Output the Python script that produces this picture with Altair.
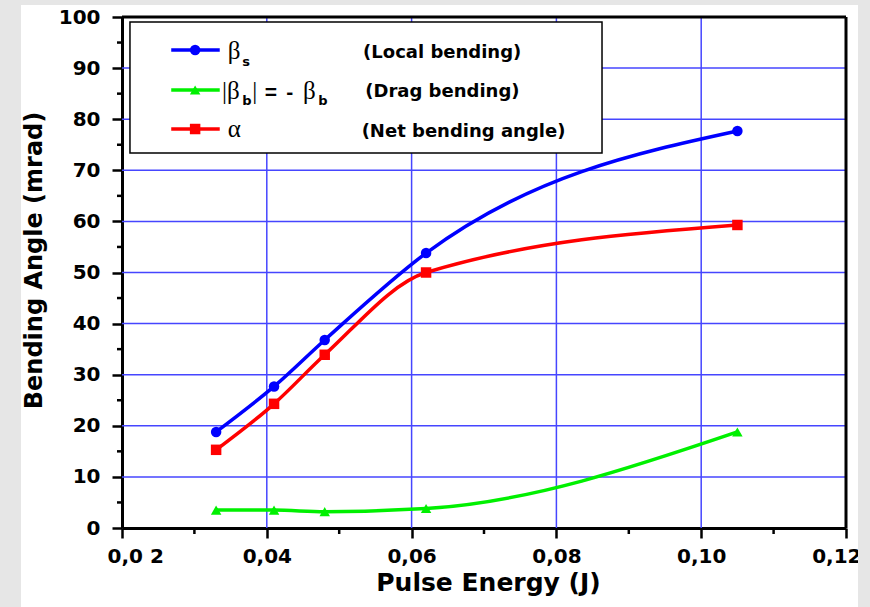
import altair as alt
import pandas as pd

# ---- data ----
energy = [0.033, 0.041, 0.048, 0.062, 0.105]
beta_s = [18.8, 27.7, 36.8, 53.8, 77.7]
beta_b = [3.5, 3.5, 3.2, 3.8, 18.8]
alpha = [15.3, 24.3, 33.9, 50.0, 59.3]
series_names = ["beta_s", "beta_b", "alpha"]
series_colors = ["#0000ff", "#00f000", "#ff0000"]
series_shapes = ["circle", "triangle-up", "square"]

x_ticks = [0.02, 0.04, 0.06, 0.08, 0.10, 0.12]
y_ticks = [0, 10, 20, 30, 40, 50, 60, 70, 80, 90, 100]
x_grid = [0.04, 0.06, 0.08, 0.10]
y_grid = [10, 20, 30, 40, 50, 60, 70, 80, 90]
x_minor = [0.03, 0.05, 0.07, 0.09, 0.11]
y_minor = [5, 15, 25, 35, 45, 55, 65, 75, 85, 95]

descriptions = ["(Local bending)", "(Drag bending)", "(Net bending angle)"]

rows = []
for name, vals in zip(series_names, [beta_s, beta_b, alpha]):
    for e, v in zip(energy, vals):
        rows.append({"series": name, "x": e, "y": v})
df = pd.DataFrame(rows)

# ---- legend layout (in data coordinates) ----
leg_box = pd.DataFrame({"x": [0.0211], "x2": [0.0863], "y": [99.0], "y2": [73.4]})
leg_lines = pd.DataFrame({
    "series": series_names,
    "x": [0.0268] * 3, "x2": [0.0335] * 3,
    "xm": [0.0301] * 3,
    "y": [93.54, 85.71, 78.08],
})
greek = pd.DataFrame({
    "x": [0.0346, 0.0338, 0.0380, 0.0450, 0.0346],
    "y": [91.78, 84.05, 84.05, 84.05, 76.52],
    "t": ["β", "|β", "|", "β", "α"],
})
subs = pd.DataFrame({
    "x": [0.0366, 0.0366, 0.0471],
    "y": [90.41, 82.78, 82.78],
    "t": ["s", "b", "b"],
})
ops = pd.DataFrame({
    "x": [0.0397, 0.0427],
    "y": [84.05, 84.05],
    "t": ["=", "-"],
})
desc = pd.DataFrame({
    "x": [0.0533, 0.0536, 0.0531],
    "y": [91.98, 84.25, 76.52],
    "t": descriptions,
})

xscale = alt.Scale(domain=[0.02, 0.12], nice=False, zero=False)
yscale = alt.Scale(domain=[0, 100], nice=False, zero=False)

x_axis = alt.Axis(
    values=x_ticks,
    labelExpr="datum.value == 0.02 ? '0,0 2' : replace(format(datum.value, '.2f'), '.', ',')",
    labelPadding=8, labelFlush=True, labelFlushOffset=15, labelOverlap=False,
    titleX=366, titleY=62, titleBaseline="alphabetic", titleAlign="center",
)
y_axis = alt.Axis(
    values=y_ticks, labelPadding=12, labelFlush=False,
    titleX=-81, titleY=243, titleBaseline="alphabetic", titleAlign="center", titleAngle=270,
    titleFontSize=24,
)


def X(f):
    return alt.X(f, type="quantitative", scale=xscale, axis=x_axis, title="Pulse Energy (J)")


def Y(f):
    return alt.Y(f, type="quantitative", scale=yscale, axis=y_axis, title="Bending Angle (mrad)")


color = alt.Color("series:N", scale=alt.Scale(domain=series_names, range=series_colors), legend=None)
shape = alt.Shape("series:N", scale=alt.Scale(domain=series_names, range=series_shapes), legend=None)

one = pd.DataFrame({"a": [0]})
GRAY = "#e6e6e6"

gray_left = alt.Chart(one).mark_rect(color=GRAY, clip=False).encode(
    x=alt.value(-122), x2=alt.value(-101), y=alt.value(-17), y2=alt.value(590)
)
gray_top = alt.Chart(one).mark_rect(color=GRAY, clip=False).encode(
    x=alt.value(-122), x2=alt.value(748), y=alt.value(-17), y2=alt.value(-12)
)
gray_right = alt.Chart(one).mark_rect(color=GRAY, clip=False).encode(
    x=alt.value(736), x2=alt.value(748), y=alt.value(-17), y2=alt.value(590)
)

grid_x = alt.Chart(pd.DataFrame({"v": x_grid})).mark_rule(color="#4646ff", strokeWidth=1.5).encode(x=X("v"))
grid_y = alt.Chart(pd.DataFrame({"v": y_grid})).mark_rule(color="#4646ff", strokeWidth=1.5).encode(y=Y("v"))

lines = alt.Chart(df).mark_line(interpolate="monotone", strokeWidth=3.5).encode(
    x=X("x"), y=Y("y"), color=color, detail="series:N"
)
points = alt.Chart(df).mark_point(filled=True, size=110, opacity=1).encode(
    x=X("x"), y=Y("y"), color=color, shape=shape
)

box = alt.Chart(leg_box).mark_rect(fill="white", stroke="black", strokeWidth=1.5).encode(
    x=X("x"), x2="x2:Q", y=Y("y"), y2="y2:Q"
)
leg_l = alt.Chart(leg_lines).mark_rule(strokeWidth=3.5).encode(
    x=X("x"), x2="x2:Q", y=Y("y"), color=color
)
leg_p = alt.Chart(leg_lines).mark_point(filled=True, size=110, opacity=1).encode(
    x=X("xm"), y=Y("y"), color=color, shape=shape
)
greek_t = alt.Chart(greek).mark_text(
    font="Liberation Serif", fontSize=25, align="left", baseline="alphabetic", color="black"
).encode(x=X("x"), y=Y("y"), text="t:N")
subs_t = alt.Chart(subs).mark_text(
    font="DejaVu Sans", fontWeight="bold", fontSize=13, align="left", baseline="alphabetic", color="black"
).encode(x=X("x"), y=Y("y"), text="t:N")
ops_t = alt.Chart(ops).mark_text(
    font="Liberation Sans", fontWeight="bold", fontSize=21, align="left", baseline="alphabetic", color="black"
).encode(x=X("x"), y=Y("y"), text="t:N")
desc_t = alt.Chart(desc).mark_text(
    font="DejaVu Sans", fontWeight="bold", fontSize=18, align="left", baseline="alphabetic", color="black"
).encode(x=X("x"), y=Y("y"), text="t:N")

minor_x = alt.Chart(pd.DataFrame({"v": x_minor})).mark_rule(color="black", strokeWidth=2.5, clip=False).encode(
    x=X("v"), y=alt.value(511), y2=alt.value(517)
)
minor_y = alt.Chart(pd.DataFrame({"v": y_minor})).mark_rule(color="black", strokeWidth=2.5, clip=False).encode(
    y=Y("v"), x=alt.value(-5), x2=alt.value(0)
)
top_border = alt.Chart(one).mark_rule(color="black", strokeWidth=3).encode(y=alt.datum(100))
right_border = alt.Chart(one).mark_rule(color="black", strokeWidth=3).encode(x=alt.datum(0.12))

chart = alt.layer(
    grid_x, grid_y, lines, points, box, leg_l, leg_p,
    greek_t, subs_t, ops_t, desc_t, minor_x, minor_y, top_border, right_border,
    gray_left, gray_top, gray_right,
).properties(
    width=724, height=511,
    padding={"left": 122, "top": 17, "right": 24, "bottom": 79},
    autosize=alt.AutoSizeParams(type="none"),
    background="white",
).configure_view(stroke=None).configure_axis(
    domainColor="black", domainWidth=3,
    tickColor="black", tickWidth=2.5, tickSize=10,
    labelFont="DejaVu Sans", labelFontWeight="bold", labelFontSize=20, labelColor="black",
    titleFont="DejaVu Sans", titleFontWeight="bold", titleFontSize=25, titleColor="black",
    grid=False,
)

chart.save("out.html", embed_options={"renderer": "svg", "actions": False})
